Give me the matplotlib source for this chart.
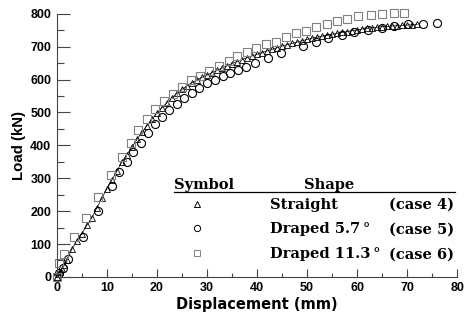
import matplotlib
matplotlib.use("Agg")
import matplotlib.pyplot as plt
from matplotlib.ticker import MultipleLocator

# Straight (case 4) - triangles
tri_x = [0, 0.3, 0.6, 1.0, 1.5, 2, 3, 4, 5, 6, 7, 8, 9, 10, 11, 12, 13, 14, 15, 16, 17, 18, 19,
         20, 21, 22, 23, 24, 25, 26, 27, 28, 29, 30, 31, 32, 33, 34, 35, 36, 37, 38, 39,
         40, 41, 42, 43, 44, 45, 46, 47, 48, 49, 50, 51, 52, 53, 54, 55, 56, 57, 58, 59,
         60, 61, 62, 63, 64, 65, 66, 67, 68, 69, 70, 71, 72]
tri_y = [0, 8, 15, 24, 36, 50, 85, 110, 132, 157, 180, 210, 240, 268, 295, 322, 350, 372, 395,
         418, 440, 460, 480, 498, 515, 530, 545, 558, 570, 581, 591, 599, 607, 614, 621, 628,
         635, 642, 649, 655, 661, 667, 672, 677, 682, 687, 692, 697, 702, 706, 710, 714, 718,
         722, 726, 729, 732, 735, 738, 741, 744, 746, 749, 751, 754, 756, 758, 759, 761, 762,
         763, 764, 765, 766, 767, 768]

# Draped 5.7 deg (case 5) - circles
cir_x = [0, 0.5, 1.2, 2.2, 5.2, 8.2, 11, 12.4, 14, 15.2, 16.8, 18.2, 19.6, 21, 22.4, 24, 25.4,
         27, 28.4, 30, 31.6, 33.2, 34.6, 36.2, 37.8, 39.6, 42.2, 44.8, 49.2, 51.8, 54.2, 57,
         59.4, 62.2, 65, 67.4, 70.2, 73.2, 76]
cir_y = [0, 12, 28, 55, 122, 200, 276, 318, 348, 380, 407, 437, 465, 486, 508, 526, 544, 559,
         574, 590, 599, 611, 620, 629, 638, 650, 666, 681, 702, 714, 726, 735, 745, 751, 757,
         763, 769, 769, 772]

# Draped 11.3 deg (case 6) - squares
sq_x = [0, 0.4, 1.4, 3.4, 5.8, 8.2, 10.8, 13, 14.8, 16.2, 18, 19.6, 21.4, 23.2, 25, 26.8, 28.6,
        30.4, 32.4, 34.4, 36, 38, 39.8, 41.8, 43.8, 45.8, 47.8, 49.8, 51.8, 54, 56, 58, 60.2,
        62.8, 65, 67.4, 69.4]
sq_y = [0, 42, 70, 120, 178, 243, 309, 366, 407, 447, 481, 511, 535, 557, 578, 598, 611, 626,
        641, 656, 671, 683, 695, 707, 715, 730, 742, 749, 759, 768, 777, 783, 792, 795, 801,
        804, 804]

legend_names = ["Straight", "Draped 5.7\u2009\u00b0", "Draped 11.3\u2009\u00b0"]
legend_cases = ["(case 4)", "(case 5)", "(case 6)"]

fig = plt.figure(figsize=(4.66, 3.22), dpi=100)
ax = fig.add_axes([0.122, 0.140, 0.859, 0.817])

axis_col = "#444444"
ax.plot(tri_x, tri_y, color="black", lw=0.5, marker="^", ms=4.5, mfc="none", mec="black",
        mew=0.6, clip_on=False)
ax.plot(cir_x, cir_y, ls="none", marker="o", ms=5.8, mfc="none", mec="black", mew=0.8,
        clip_on=False)
ax.plot(sq_x, sq_y, ls="none", marker="s", ms=5.5, mfc="none", mec="#808080", mew=0.8,
        clip_on=False)

ax.set_xlim(0, 80)
ax.set_ylim(0, 800)
ax.xaxis.set_major_locator(MultipleLocator(10))
ax.xaxis.set_minor_locator(MultipleLocator(5))
ax.yaxis.set_major_locator(MultipleLocator(100))
ax.yaxis.set_minor_locator(MultipleLocator(50))
for s in ["top", "right"]:
    ax.spines[s].set_visible(False)
for s in ["left", "bottom"]:
    ax.spines[s].set_color(axis_col)
    ax.spines[s].set_linewidth(0.8)
ax.tick_params(axis="y", which="major", direction="in", length=9, width=0.8, color=axis_col,
               pad=4)
ax.tick_params(axis="y", which="minor", direction="in", length=5, width=0.8, color=axis_col)
ax.tick_params(axis="x", which="major", direction="in", length=6, width=0.8, color=axis_col,
               pad=4)
ax.tick_params(axis="x", which="minor", direction="in", length=3, width=0.8, color=axis_col)
for lab in ax.get_xticklabels() + ax.get_yticklabels():
    lab.set_fontfamily("Liberation Sans")
    lab.set_fontweight("bold")
    lab.set_fontsize(9)

ax.set_xlabel("Displacement (mm)", fontfamily="DejaVu Sans", fontweight="bold",
              fontsize=10.5, labelpad=2)
ax.set_ylabel("Load (kN)", fontfamily="Liberation Sans", fontweight="bold", fontsize=10.8,
              labelpad=3)

# legend-like table
tf = dict(fontfamily="DejaVu Serif", fontweight="bold", fontsize=10.5,
          transform=ax.transData)
ax.text(23.4, 266, "Symbol", ha="left", va="baseline", **tf)
ax.text(54.5, 266, "Shape", ha="center", va="baseline", **tf)
ax.plot([23.4, 79.6], [257, 257], color="black", lw=0.9, clip_on=False)
markers = [dict(marker="^", mec="black", ms=4.5), dict(marker="o", mec="black", ms=4.5),
           dict(marker="s", mec="#808080", ms=4.8)]
ys = [207, 133, 57]
for m, yy, nm, cs in zip(markers, ys, legend_names, legend_cases):
    ax.plot([28], [yy + 15], ls="none", mfc="none", mew=0.7, **m)
    ax.text(42.5, yy, nm, ha="left", va="baseline", **tf)
    ax.text(79.3, yy, cs, ha="right", va="baseline", **tf)

fig.savefig("out.png", dpi=100)
